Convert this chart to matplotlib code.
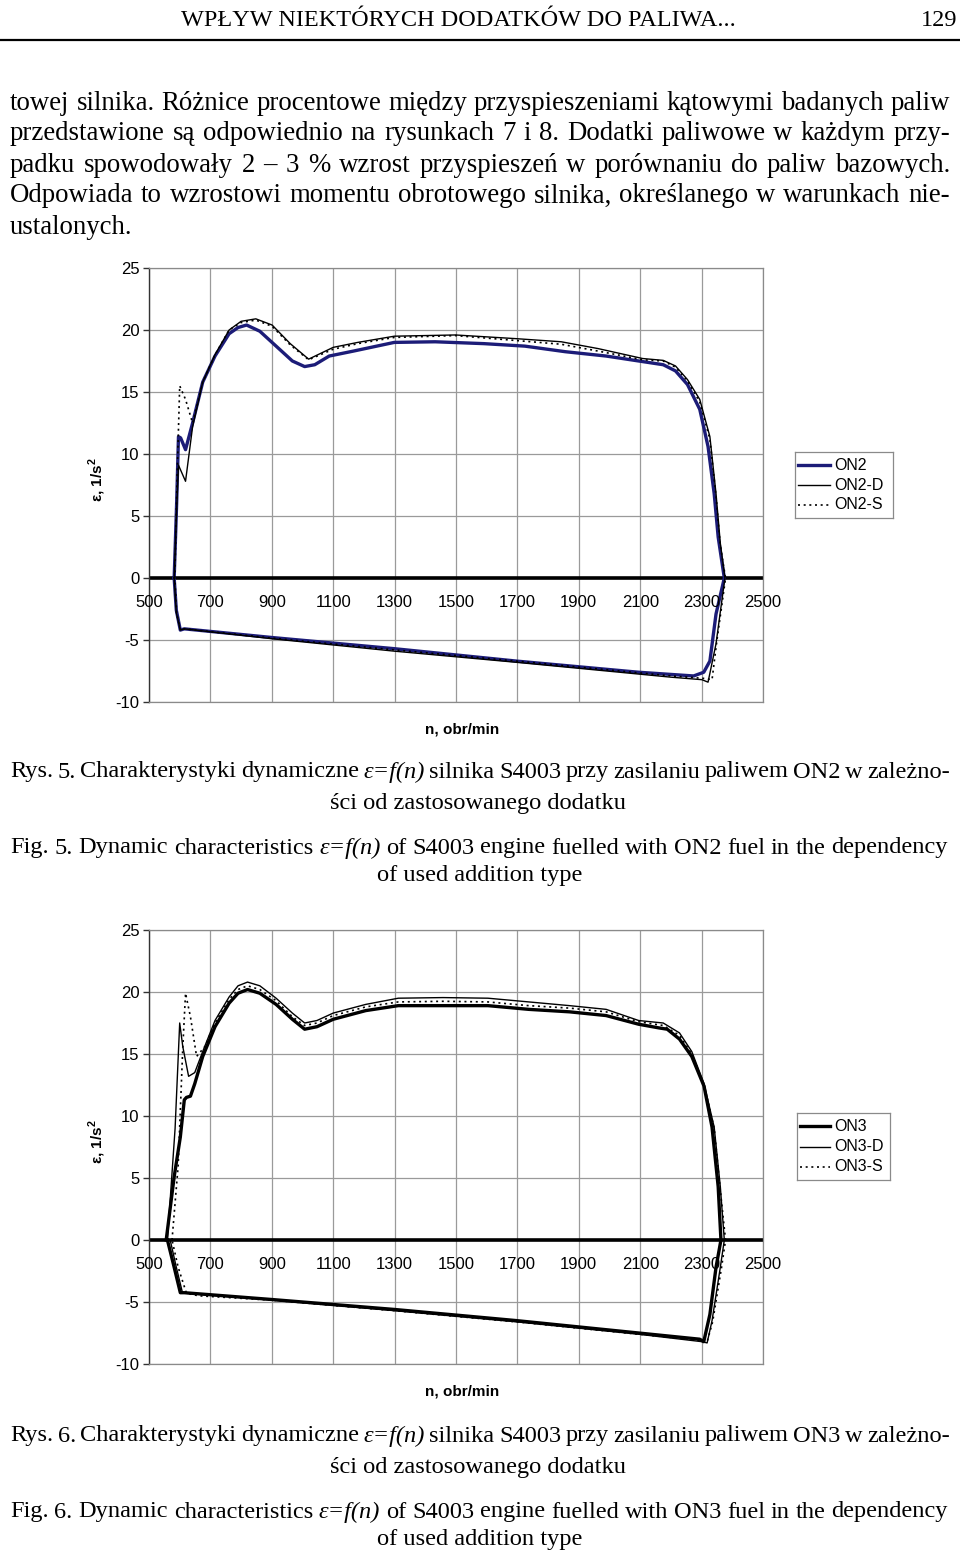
import matplotlib
matplotlib.use("Agg")
import matplotlib.pyplot as plt
from matplotlib.lines import Line2D

plt.rcParams["axes.unicode_minus"] = False

W, H = 960, 1550

# ---- data (n in obr/min, eps in 1/s^2), loop: acceleration then deceleration ----
on2_n = [582, 590, 596, 603, 619, 642, 675, 715, 761, 790, 818, 861, 914, 967, 1007, 1040, 1087, 1166, 1299,
         1432, 1591, 1724, 1856, 1989, 2122, 2175, 2215, 2254, 2294, 2321, 2341, 2354, 2374,
         2347, 2327, 2307, 2274, 2095, 1697, 1299, 901, 615, 602, 589, 582]
on2_e = [0, 6.0, 11.4, 11.3, 10.35, 12.5, 15.8, 17.9, 19.7, 20.2, 20.4, 19.9, 18.7, 17.5, 17.05, 17.2, 17.9, 18.3, 19.0,
         19.05, 18.9, 18.7, 18.25, 17.9, 17.4, 17.2, 16.7, 15.6, 13.6, 10.6, 6.8, 3.3, 0,
         -2.9, -6.7, -7.6, -7.9, -7.6, -6.7, -5.7, -4.8, -4.1, -4.2, -2.6, 0]

on2d_n = [582, 590, 596, 619, 642, 675, 715, 761, 800, 848, 901, 960, 1020, 1100, 1180, 1299, 1498, 1697,
          1843, 1963, 2108, 2175, 2215, 2254, 2294, 2327, 2347, 2361, 2376,
          2365, 2347, 2321, 2301, 2201, 1697, 1299, 901, 615, 602, 589, 582]
on2d_e = [0, 5.5, 9.1, 7.8, 12.2, 15.8, 18.0, 20.0, 20.7, 20.9, 20.4, 18.9, 17.65, 18.6, 19.0, 19.5, 19.6, 19.3,
          19.05, 18.5, 17.7, 17.55, 17.1, 16.0, 14.4, 11.4, 6.8, 2.8, 0,
          -2.0, -5.3, -8.4, -8.2, -8.0, -6.8, -5.9, -4.9, -4.1, -4.2, -2.8, 0]

on2s_n = [584, 592, 600, 619, 642, 675, 715, 761, 800, 848, 901, 960, 1020, 1100, 1180, 1299, 1498, 1697,
          1843, 1963, 2108, 2175, 2215, 2254, 2294, 2327, 2347, 2361, 2378,
          2367, 2350, 2334, 2310, 2201, 1697, 1299, 901, 615, 602, 590, 584]
on2s_e = [0, 8.5, 15.5, 14.4, 12.5, 15.8, 18.0, 20.0, 20.6, 20.8, 20.3, 18.8, 17.6, 18.45, 18.9, 19.4, 19.55, 19.15,
          18.85, 18.3, 17.6, 17.5, 17.0, 15.9, 14.2, 11.2, 6.6, 2.6, 0,
          -2.0, -5.0, -8.2, -8.1, -7.9, -6.7, -5.8, -4.85, -4.1, -4.2, -2.8, 0]

on3_n = [556, 582, 602, 615, 622, 635, 649, 675, 715, 761, 790, 821, 861, 914, 967, 1007, 1047, 1100, 1206, 1312,
         1458, 1604, 1737, 1870, 1989, 2095, 2162, 2188, 2228, 2268, 2308, 2334, 2354, 2363,
         2347, 2327, 2307, 2294, 2095, 1697, 1299, 901, 615, 602, 582, 560]
on3_e = [0, 5.1, 8.3, 11.3, 11.5, 11.6, 12.6, 14.8, 17.2, 19.1, 19.9, 20.2, 19.9, 19.0, 17.8, 17.0, 17.2, 17.8, 18.5, 18.9,
         18.9, 18.9, 18.6, 18.4, 18.1, 17.4, 17.1, 17.0, 16.2, 14.8, 12.4, 9.1, 4.3, 0,
         -2.2, -6.0, -8.2, -8.0, -7.5, -6.5, -5.6, -4.8, -4.25, -4.25, -2.2, 0]

on3d_n = [560, 585, 600, 610, 629, 649, 675, 715, 761, 790, 821, 861, 914, 967, 1007, 1047, 1100, 1206, 1312,
          1458, 1604, 1737, 1870, 1989, 2095, 2175, 2228, 2268, 2308, 2341, 2361, 2374,
          2361, 2334, 2318, 2301, 2095, 1697, 1299, 901, 622, 609, 589, 569]
on3d_e = [0, 9.0, 17.5, 15.6, 13.2, 13.5, 15.2, 17.7, 19.6, 20.5, 20.8, 20.5, 19.5, 18.3, 17.5, 17.7, 18.3, 19.0, 19.5,
          19.55, 19.5, 19.2, 18.9, 18.6, 17.7, 17.5, 16.7, 15.2, 12.6, 9.1, 4.3, 0,
          -2.2, -6.5, -8.3, -8.2, -7.6, -6.6, -5.7, -4.85, -4.3, -4.25, -2.2, 0]

on3s_n = [575, 595, 610, 619, 635, 655, 682, 715, 761, 790, 821, 861, 914, 967, 1007, 1047, 1100, 1206, 1312,
          1458, 1604, 1737, 1870, 1989, 2095, 2175, 2228, 2268, 2308, 2341, 2361, 2378,
          2365, 2336, 2318, 2301, 2095, 1697, 1299, 901, 662, 622, 595, 575]
on3s_e = [0, 6.0, 15.5, 19.9, 18.0, 14.8, 15.6, 17.5, 19.4, 20.2, 20.5, 20.2, 19.3, 18.0, 17.3, 17.5, 18.1, 18.8, 19.2,
          19.25, 19.2, 18.9, 18.7, 18.4, 17.6, 17.3, 16.5, 15.0, 12.5, 9.0, 4.0, 0,
          -2.2, -6.6, -8.2, -8.1, -7.6, -6.6, -5.7, -4.85, -4.5, -4.3, -2.2, 0]

x_ticks = [500, 700, 900, 1100, 1300, 1500, 1700, 1900, 2100, 2300, 2500]
y_ticks = [-10, -5, 0, 5, 10, 15, 20, 25]

header = "WPŁYW NIEKTÓRYCH DODATKÓW DO PALIWA..."
page_no = "129"
paragraph = [
    "towej silnika. Różnice procentowe między przyspieszeniami kątowymi badanych paliw",
    "przedstawione są odpowiednio na rysunkach 7 i 8. Dodatki paliwowe w każdym przy-",
    "padku spowodowały 2 – 3 % wzrost przyspieszeń w porównaniu do paliw bazowych.",
    "Odpowiada to wzrostowi momentu obrotowego silnika, określanego w warunkach nie-",
]
paragraph_last = "ustalonych."

SERIF = "Liberation Serif"
SANS = "Liberation Sans"

fig = plt.figure(figsize=(W / 100, H / 100), dpi=100)
renderer = fig.canvas.get_renderer()


def fx(x):
    return x / W


def fy(y):
    return 1 - y / H


def justify(line, y, size, x0=10, x1=950):
    words = line.split()
    objs = []
    for w in words:
        style = "italic" if w == "ε=f(n)" else "normal"
        objs.append(fig.text(0, fy(y), w, family=SERIF, fontsize=size, style=style, va="center"))
    widths = [o.get_window_extent(renderer).width for o in objs]
    gap = (x1 - x0 - sum(widths)) / (len(words) - 1)
    x = x0
    for o, w in zip(objs, widths):
        o.set_x(fx(x))
        x += w + gap


# header
fig.text(fx(458), fy(20), header, family=SERIF, fontsize=17.5, ha="center", va="center")
fig.text(fx(957), fy(20), page_no, family=SERIF, fontsize=17.5, ha="right", va="center")
fig.add_artist(Line2D([0, 1], [fy(40), fy(40)], color="black", lw=1.6))

for i, line in enumerate(paragraph):
    justify(line, 103 + 31 * i, 19.3)
fig.text(fx(10), fy(227), paragraph_last, family=SERIF, fontsize=19.3, va="center")


def draw_chart(top, series, leg_box, caption_pl, caption_en, cap_y):
    bottom_px = top + 434
    ax = fig.add_axes([fx(149), fy(bottom_px), 614 / W, 434 / H])
    for n, e, kw in series:
        ax.plot(n, e, solid_joinstyle="round", **kw)
    ax.axhline(0, color="black", lw=2.6, zorder=1)
    ax.set_xlim(500, 2500)
    ax.set_ylim(-10, 25)
    ax.set_xticks(x_ticks)
    ax.set_yticks(y_ticks)
    ax.grid(True, color="#9a9a9a", lw=0.9)
    ax.set_axisbelow(True)
    for s in ["top", "right", "bottom"]:
        ax.spines[s].set_color("#8a8a8a")
        ax.spines[s].set_linewidth(0.9)
    ax.spines["left"].set_color("#333333")
    ax.spines["left"].set_linewidth(1.0)
    ax.tick_params(axis="x", length=0, labelbottom=False)
    ax.tick_params(axis="y", length=4, width=1, color="#333333", pad=3, labelsize=12)
    for lab in ax.get_yticklabels():
        lab.set_family(SANS)
    for t in x_ticks:
        ax.text(t, -1.95, str(t), ha="center", va="center", fontsize=12, family=SANS)
    fig.text(fx(97), fy(top + 212), "ε, 1/s$^\\mathregular{2}$", rotation=90, ha="center", va="center",
             fontsize=11, fontweight="bold", family=SANS)
    fig.text(fx(462), fy(bottom_px + 27), "n, obr/min", ha="center", va="center",
             fontsize=11, fontweight="bold", family=SANS)

    lx0, ly0, lx1, ly1 = leg_box
    lax = fig.add_axes([fx(lx0), fy(ly1), (lx1 - lx0) / W, (ly1 - ly0) / H])
    lax.set_xlim(0, 1)
    lax.set_ylim(0, 1)
    lax.set_xticks([])
    lax.set_yticks([])
    for s in lax.spines.values():
        s.set_color("#8a8a8a")
        s.set_linewidth(0.9)
    for k, (_, _, kw) in enumerate(series):
        yy = 0.8 - 0.3 * k
        lax.plot([0.03, 0.36], [yy, yy], **kw)
        lax.text(0.40, yy, kw["label"], va="center", fontsize=11.5, family=SANS)

    pl1, pl2 = caption_pl
    en1, en2 = caption_en
    justify(pl1, cap_y, 17.6)
    fig.text(fx(478), fy(cap_y + 31), pl2, family=SERIF, fontsize=17.6, ha="center", va="center")
    justify(en1, cap_y + 76, 17.6, x1=948)
    fig.text(fx(480), fy(cap_y + 104), en2, family=SERIF, fontsize=17.6, ha="center", va="center")


navy = "#1c1c78"
dot = dict(color="black", lw=1.2, linestyle=(0, (1.2, 2.2)))

draw_chart(
    268,
    [(on2_n, on2_e, dict(color=navy, lw=2.4, label="ON2")),
     (on2d_n, on2d_e, dict(color="black", lw=1.0, label="ON2-D")),
     (on2s_n, on2s_e, dict(dot, label="ON2-S"))],
    (795, 452, 893, 518),
    ("Rys. 5. Charakterystyki dynamiczne ε=f(n) silnika S4003 przy zasilaniu paliwem ON2 w zależno-",
     "ści od zastosowanego dodatku"),
    ("Fig. 5. Dynamic characteristics ε=f(n) of S4003 engine fuelled with ON2 fuel in the dependency",
     "of used addition type"),
    772,
)

draw_chart(
    930,
    [(on3_n, on3_e, dict(color="black", lw=2.4, label="ON3")),
     (on3d_n, on3d_e, dict(color="black", lw=1.0, label="ON3-D")),
     (on3s_n, on3s_e, dict(dot, label="ON3-S"))],
    (797, 1113, 890, 1180),
    ("Rys. 6. Charakterystyki dynamiczne ε=f(n) silnika S4003 przy zasilaniu paliwem ON3 w zależno-",
     "ści od zastosowanego dodatku"),
    ("Fig. 6. Dynamic characteristics ε=f(n) of S4003 engine fuelled with ON3 fuel in the dependency",
     "of used addition type"),
    1436,
)

fig.savefig("out.png", dpi=100)
